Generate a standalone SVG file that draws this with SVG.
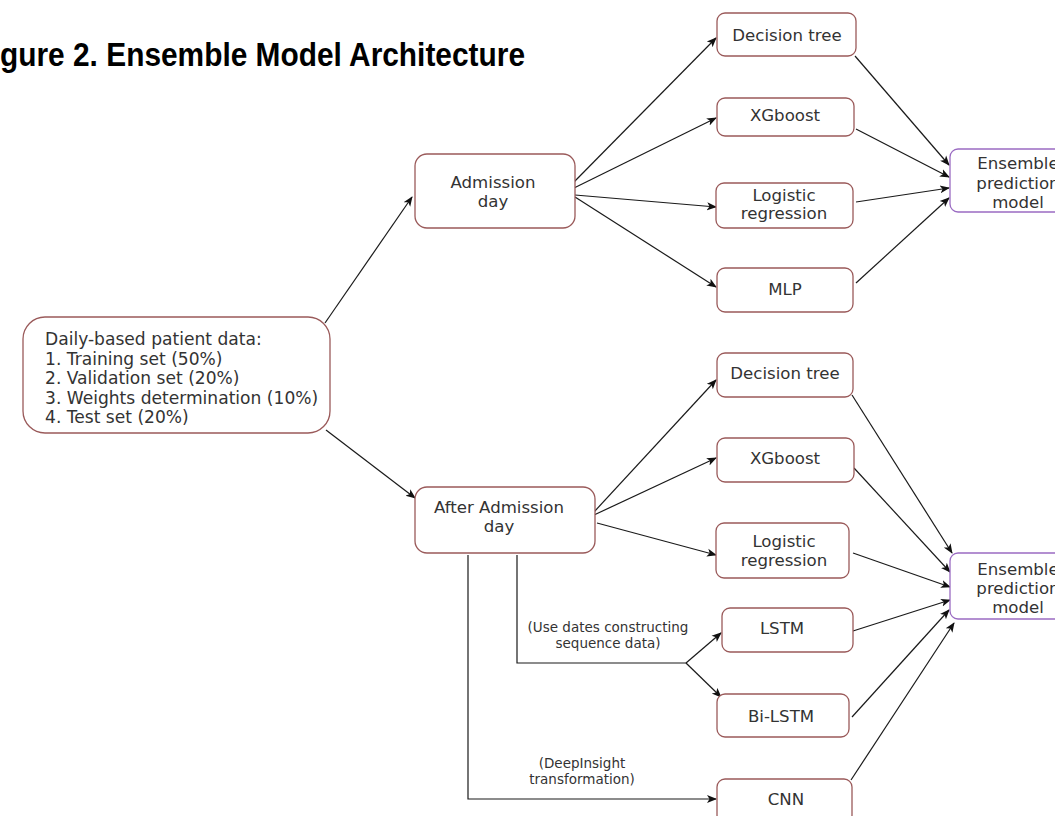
<svg xmlns="http://www.w3.org/2000/svg" width="1055" height="816" viewBox="0 0 1055 816">
<defs>
<marker id="arr" viewBox="0 0 10 10" refX="9" refY="5" markerWidth="10" markerHeight="10" markerUnits="userSpaceOnUse" orient="auto">
<path d="M0,1 L10,5 L0,9 L2.5,5 Z" fill="#111"/>
</marker>
<style>
.box{fill:#fff;stroke:#9a5a5a;stroke-width:1.3}
.ens{fill:#fff;stroke:#9a6bc2;stroke-width:1.3}
.t{font-family:"DejaVu Sans",Verdana,sans-serif;font-size:16.6px;fill:#333;text-anchor:middle}
.tl{font-family:"DejaVu Sans",Verdana,sans-serif;font-size:17.1px;fill:#333}
.lbl{font-family:"DejaVu Sans",Verdana,sans-serif;font-size:13.5px;fill:#333;text-anchor:middle}
.c{fill:none;stroke:#1a1a1a;stroke-width:1.2}
.ca{fill:none;stroke:#1a1a1a;stroke-width:1.2;marker-end:url(#arr)}
.title{font-family:"Liberation Sans",Arial,sans-serif;font-weight:bold;font-size:34px;fill:#000}
</style>
</defs>
<rect width="1055" height="816" fill="#fff"/>
<text class="title" x="0" y="66" textLength="525" lengthAdjust="spacingAndGlyphs">gure 2. Ensemble Model Architecture</text>

<g id="connectors">
<line class="ca" x1="325" y1="323" x2="412" y2="197"/>
<line class="ca" x1="326" y1="430" x2="415" y2="498"/>
<line class="ca" x1="574" y1="182" x2="716" y2="38"/>
<line class="ca" x1="574" y1="188" x2="716" y2="118"/>
<line class="ca" x1="575" y1="195" x2="716" y2="207"/>
<line class="ca" x1="575" y1="197" x2="716" y2="287"/>
<line class="ca" x1="855" y1="56" x2="949" y2="165"/>
<line class="ca" x1="856" y1="129" x2="949" y2="177"/>
<line class="ca" x1="856" y1="202" x2="949" y2="188"/>
<line class="ca" x1="856" y1="283" x2="949" y2="198"/>
<line class="ca" x1="594" y1="512" x2="716" y2="380"/>
<line class="ca" x1="594" y1="515" x2="716" y2="458"/>
<line class="ca" x1="597" y1="523" x2="716" y2="555"/>
<polyline class="c" points="517,555 517,663 686,663"/>
<line class="ca" x1="686" y1="663" x2="721" y2="633"/>
<line class="ca" x1="686" y1="663" x2="721" y2="697"/>
<polyline class="ca" points="468,555 468,799 716,799"/>
<line class="ca" x1="852" y1="395" x2="952" y2="553"/>
<line class="ca" x1="854" y1="468" x2="950" y2="572"/>
<line class="ca" x1="853" y1="553" x2="950" y2="587"/>
<line class="ca" x1="853" y1="631" x2="950" y2="600"/>
<line class="ca" x1="852" y1="717" x2="949" y2="610"/>
<line class="ca" x1="851" y1="780" x2="954" y2="623"/>
<text class="lbl" x="608" y="632">(Use dates constructing</text>
<text class="lbl" x="608" y="648">sequence data)</text>
<text class="lbl" x="582" y="768">(DeepInsight</text>
<text class="lbl" x="582" y="784">transformation)</text>
</g>

<g id="data">
<rect class="box" x="23" y="317" width="307" height="116" rx="22"/>
<text class="tl" x="45" y="345">Daily-based patient data:</text>
<text class="tl" x="45" y="364.5">1. Training set (50%)</text>
<text class="tl" x="45" y="384">2. Validation set (20%)</text>
<text class="tl" x="45" y="403.5">3. Weights determination (10%)</text>
<text class="tl" x="45" y="423">4. Test set (20%)</text>
</g>

<g id="admission">
<rect class="box" x="415" y="154" width="160" height="74" rx="12"/>
<text class="t" x="493" y="188">Admission</text>
<text class="t" x="493" y="207">day</text>
</g>

<g id="after-admission">
<rect class="box" x="415" y="487" width="180" height="66" rx="12"/>
<text class="t" x="499" y="513">After Admission</text>
<text class="t" x="499" y="532">day</text>
</g>

<g id="dt1"><rect class="box" x="717" y="13" width="139" height="43" rx="8"/><text class="t" x="787" y="41">Decision tree</text></g>
<g id="xgb1"><rect class="box" x="717" y="98" width="137" height="38" rx="8"/><text class="t" x="785" y="121">XGboost</text></g>
<g id="lr1"><rect class="box" x="716" y="183" width="137" height="45" rx="8"/><text class="t" x="784" y="201">Logistic</text><text class="t" x="784" y="219">regression</text></g>
<g id="mlp1"><rect class="box" x="717" y="268" width="136" height="44" rx="8"/><text class="t" x="785" y="295">MLP</text></g>
<g id="ens1"><rect class="ens" x="950" y="149" width="136" height="63" rx="8"/><text class="t" x="1018" y="169">Ensemble</text><text class="t" x="1018" y="189">prediction</text><text class="t" x="1018" y="208">model</text></g>

<g id="dt2"><rect class="box" x="717" y="353" width="136" height="44" rx="8"/><text class="t" x="785" y="379">Decision tree</text></g>
<g id="xgb2"><rect class="box" x="717" y="438" width="137" height="44" rx="8"/><text class="t" x="785" y="464">XGboost</text></g>
<g id="lr2"><rect class="box" x="716" y="523" width="133" height="55" rx="8"/><text class="t" x="784" y="547">Logistic</text><text class="t" x="784" y="566">regression</text></g>
<g id="lstm"><rect class="box" x="722" y="608" width="131" height="44" rx="8"/><text class="t" x="782" y="634">LSTM</text></g>
<g id="bilstm"><rect class="box" x="717" y="694" width="132" height="43" rx="8"/><text class="t" x="781" y="722">Bi-LSTM</text></g>
<g id="cnn"><rect class="box" x="717" y="779" width="135" height="44" rx="8"/><text class="t" x="786" y="805">CNN</text></g>
<g id="ens2"><rect class="ens" x="950" y="553" width="136" height="66" rx="8"/><text class="t" x="1018" y="575">Ensemble</text><text class="t" x="1018" y="594">prediction</text><text class="t" x="1018" y="613">model</text></g>
</svg>
